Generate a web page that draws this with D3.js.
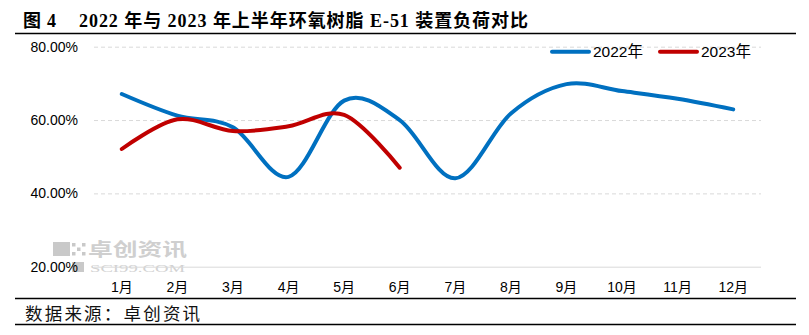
<!DOCTYPE html>
<html><head><meta charset="utf-8">
<script src="https://cdn.jsdelivr.net/npm/d3@7"></script>
<style>
html,body{margin:0;padding:0;background:#fff;}
svg{display:block;}
</style></head>
<body>
<svg id="chart" width="809" height="335"></svg>
<script>
const months = ["1月","2月","3月","4月","5月","6月","7月","8月","9月","10月","11月","12月"];
const series2022 = [67.1, 61.2, 58.0, 44.5, 65.3, 60.0, 44.1, 61.8, 69.8, 67.9, 65.8, 62.9];
const series2023 = [52.1, 60.2, 57.0, 58.3, 61.4, 47.0];
const seriesNames = ["2022年","2023年"];
const seriesColors = ["#0070C0","#C00000"];
const yTicks = [20, 40, 60, 80];
const titleLabel = "图 4";
const titleText = "2022 年与 2023 年上半年环氧树脂 E-51 装置负荷对比";
const sourceText = "数据来源：卓创资讯";

const svg = d3.select("#chart");
svg.append("rect").attr("width",809).attr("height",335).attr("fill","#fff");

const x = d3.scaleBand().domain(months).range([94, 761]);
const y = d3.scaleLinear().domain([20, 80]).range([266.7, 46.7]);

// title
const tFont = "'Liberation Serif','Noto Sans CJK SC',serif";
svg.append("text").attr("x", 23).attr("y", 27)
  .attr("font-family", tFont).attr("font-weight", "bold").attr("font-size", 18).attr("fill","#000")
  .attr("textLength", 33).attr("lengthAdjust","spacing")
  .text(titleLabel);
svg.append("text").attr("x", 79).attr("y", 27)
  .attr("font-family", tFont).attr("font-weight", "bold").attr("font-size", 18).attr("fill","#000")
  .attr("textLength", 449).attr("lengthAdjust","spacing")
  .text(titleText);
svg.append("line").attr("x1",15).attr("x2",796).attr("y1",33.5).attr("y2",33.5)
  .attr("stroke","#000").attr("stroke-width",1.3);

// watermark
const wm = svg.append("g");
wm.append("rect").attr("x",53).attr("y",242).attr("width",17).attr("height",14).attr("fill","#c9c9c9");
for (let i=0;i<3;i++) for (let j=0;j<3;j++) if ((i+j)%2===0)
  wm.append("rect").attr("x",72+i*5).attr("y",243+j*4.5).attr("width",3.5).attr("height",3.5).attr("fill","#c9c9c9");
wm.append("rect").attr("x",72).attr("y",262).attr("width",12).attr("height",10).attr("fill","#c9c9c9");
wm.append("text").attr("x",88).attr("y",256).attr("font-family","'Noto Sans CJK SC',sans-serif")
  .attr("font-weight","bold").attr("font-size",18).attr("fill","#cfcfcf")
  .attr("textLength",99).attr("lengthAdjust","spacingAndGlyphs").text("卓创资讯");
wm.append("text").attr("x",90).attr("y",272).attr("font-family","'Liberation Serif',serif")
  .attr("font-size",11).attr("fill","#d2d2d2")
  .attr("textLength",95).attr("lengthAdjust","spacingAndGlyphs").text("SCI99.COM");

// grid
const yAxis = d3.axisLeft(y).tickValues(yTicks).tickSize(-(761-94)).tickFormat(d => d.toFixed(2) + "%");
const gy = svg.append("g").attr("transform","translate(94,0)").call(yAxis);
gy.select(".domain").remove();
gy.selectAll(".tick line").attr("stroke","#d9d9d9").attr("stroke-width",1)
  .attr("stroke-dasharray", d => d === 20 ? null : "4,3");
gy.selectAll(".tick text").attr("x",-16).attr("font-family","'Liberation Sans',Arial,sans-serif")
  .attr("font-size",14).attr("fill","#000");

// x axis labels
const xAxis = d3.axisBottom(x).tickSize(0).tickPadding(0);
const gx = svg.append("g").attr("transform","translate(0,282)").call(xAxis);
gx.select(".domain").remove();
gx.selectAll(".tick text").attr("font-family","'Liberation Sans','Noto Sans CJK SC',sans-serif")
  .attr("font-size",14).attr("fill","#000");

// lines
const line = d3.line().x((d,i) => x(months[i]) + x.bandwidth()/2).y(d => y(d)).curve(d3.curveCatmullRom.alpha(0));
[series2022, series2023].forEach((s, k) => {
  svg.append("path").datum(s).attr("d", line).attr("fill","none")
    .attr("stroke", seriesColors[k]).attr("stroke-width",4).attr("stroke-linecap","round").attr("stroke-linejoin","round");
});

// legend
const legX = [552, 660];
seriesNames.forEach((n, k) => {
  svg.append("line").attr("x1",legX[k]).attr("x2",legX[k]+37).attr("y1",51.7).attr("y2",51.7)
    .attr("stroke",seriesColors[k]).attr("stroke-width",4).attr("stroke-linecap","round");
  svg.append("text").attr("x",legX[k]+41).attr("y",51.7).attr("dy","0.36em")
    .attr("font-family","'Liberation Sans','Noto Sans CJK SC',sans-serif").attr("font-size",15.5).attr("fill","#000")
    .text(n);
});

// bottom rules and source
svg.append("line").attr("x1",15).attr("x2",796).attr("y1",298.5).attr("y2",298.5).attr("stroke","#000").attr("stroke-width",1.3);
svg.append("text").attr("x",25).attr("y",320).attr("font-family","'Noto Sans CJK SC',sans-serif")
  .attr("font-size",17.5).attr("letter-spacing",2.2).attr("fill","#111").text(sourceText);
svg.append("line").attr("x1",15).attr("x2",796).attr("y1",324.5).attr("y2",324.5).attr("stroke","#000").attr("stroke-width",1.3);
</script>
</body></html>
